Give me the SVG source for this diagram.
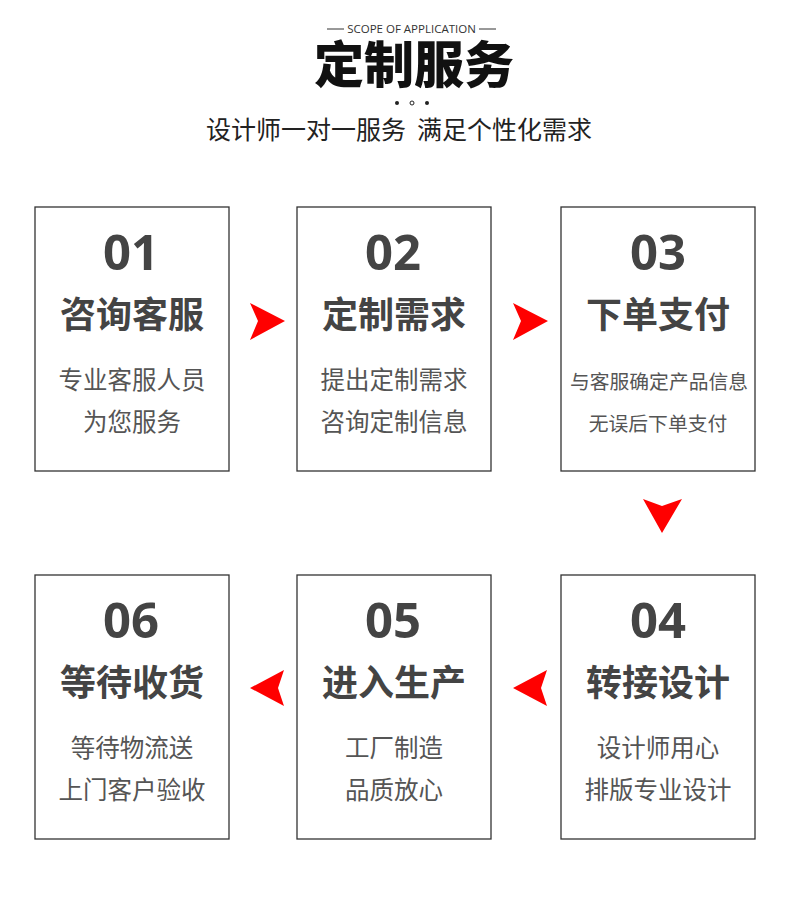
<svg xmlns="http://www.w3.org/2000/svg" width="790" height="898" viewBox="0 0 790 898">
<style>
.box{fill:#fff;stroke:#333;stroke-width:1.3}
.num{font-family:"Noto Sans","Open Sans",sans-serif;font-weight:700;font-size:49px;fill:#444;text-anchor:middle}
.tt{font-family:"Noto Sans CJK SC",sans-serif;font-weight:700;font-size:36px;fill:#444;text-anchor:middle}
.ds{font-family:"Noto Sans CJK SC",sans-serif;font-size:24.5px;fill:#555;text-anchor:middle}
.ds2{font-family:"Noto Sans CJK SC",sans-serif;font-size:19.8px;fill:#555;text-anchor:middle}
.arr{fill:#f00}
</style>
<rect width="790" height="898" fill="#fff"/>
<g id="header">
<line x1="327" y1="29" x2="344" y2="29" stroke="#333" stroke-width="1"/>
<line x1="479" y1="29" x2="496" y2="29" stroke="#333" stroke-width="1"/>
<text x="411.5" y="33" font-family="'Open Sans','Noto Sans',sans-serif" font-size="11.5" fill="#333" text-anchor="middle">SCOPE OF APPLICATION</text>
<text x="414" y="83" font-family="'Noto Sans CJK SC',sans-serif" font-weight="900" font-size="50" fill="#111" text-anchor="middle">定制服务</text>
<circle cx="397" cy="103" r="2" fill="#222"/>
<circle cx="412" cy="103" r="2" fill="none" stroke="#222" stroke-width="1"/>
<circle cx="427" cy="103" r="2" fill="#222"/>
<text x="399" y="139" font-family="'Noto Sans CJK SC',sans-serif" font-size="25" fill="#222" text-anchor="middle" xml:space="preserve">设计师一对一服务  满足个性化需求</text>
</g>
<g id="step1">
<rect class="box" x="35" y="207" width="194" height="264"/>
<text class="num" x="131" y="270">01</text>
<text class="tt" x="132" y="328">咨询客服</text>
<text class="ds" x="132" y="389">专业客服人员</text>
<text class="ds" x="132" y="431">为您服务</text>
</g>
<g id="step2">
<rect class="box" x="297" y="207" width="194" height="264"/>
<text class="num" x="393" y="270">02</text>
<text class="tt" x="394" y="328">定制需求</text>
<text class="ds" x="394" y="389">提出定制需求</text>
<text class="ds" x="394" y="431">咨询定制信息</text>
</g>
<g id="step3">
<rect class="box" x="561" y="207" width="194" height="264"/>
<text class="num" x="658" y="270">03</text>
<text class="tt" x="658" y="328">下单支付</text>
<text class="ds2" x="659" y="389">与客服确定产品信息</text>
<text class="ds2" x="658" y="431">无误后下单支付</text>
</g>
<g id="step4">
<rect class="box" x="561" y="575" width="194" height="264"/>
<text class="num" x="658" y="638">04</text>
<text class="tt" x="658" y="696">转接设计</text>
<text class="ds" x="658" y="757">设计师用心</text>
<text class="ds" x="658" y="799">排版专业设计</text>
</g>
<g id="step5">
<rect class="box" x="297" y="575" width="194" height="264"/>
<text class="num" x="393" y="638">05</text>
<text class="tt" x="394" y="696">进入生产</text>
<text class="ds" x="394" y="757">工厂制造</text>
<text class="ds" x="394" y="799">品质放心</text>
</g>
<g id="step6">
<rect class="box" x="35" y="575" width="194" height="264"/>
<text class="num" x="131" y="638">06</text>
<text class="tt" x="132" y="696">等待收货</text>
<text class="ds" x="132" y="757">等待物流送</text>
<text class="ds" x="132" y="799">上门客户验收</text>
</g>
<g id="connectors">
<polygon class="arr" points="250,303 285,321 250,340 258,321"/>
<polygon class="arr" points="513,303 548,321 513,340 521,321"/>
<polygon class="arr" points="643,499 662,506 682,499 662,533"/>
<polygon class="arr" points="284,670 250,688 284,706 278,688"/>
<polygon class="arr" points="547,670 513,688 547,706 541,688"/>
</g>
</svg>
